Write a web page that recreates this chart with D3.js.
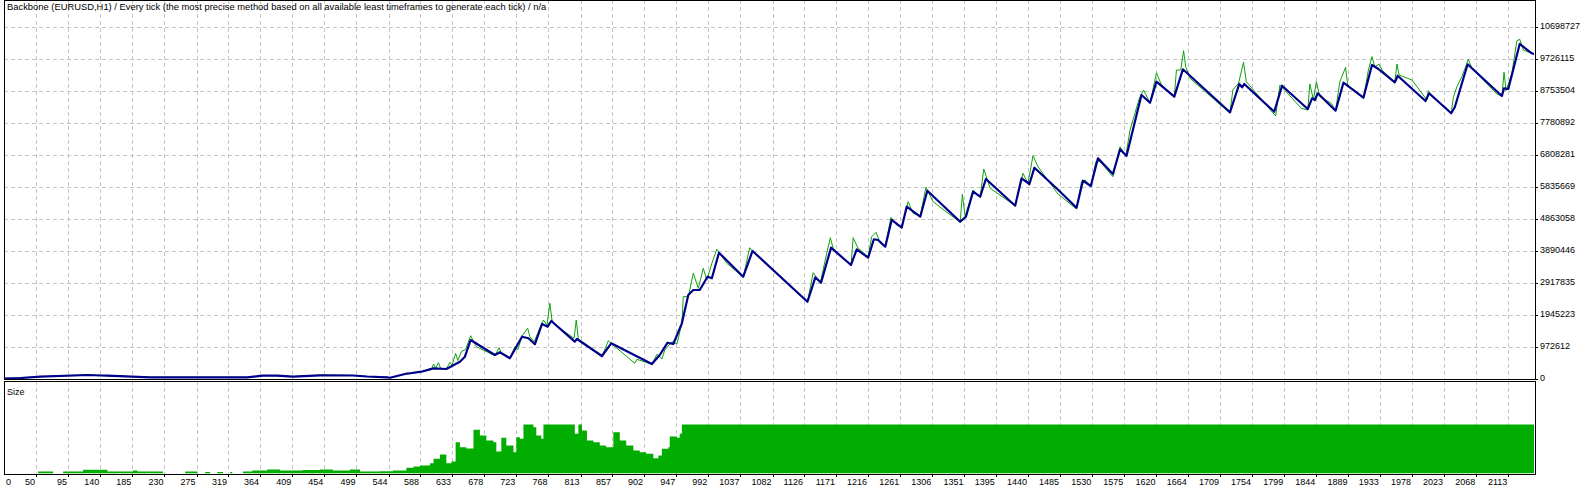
<!DOCTYPE html>
<html><head><meta charset="utf-8">
<script src="https://cdn.jsdelivr.net/npm/d3@7"></script>
<style>
html,body{margin:0;padding:0;background:#fff;overflow:hidden;}
svg{display:block;}
text{font-family:"Liberation Sans",Arial,sans-serif;font-size:9px;fill:#000;}
text.title{font-size:9.4px;}
</style></head><body>
<svg id="c" width="1580" height="491"></svg>
<script>
const titleText = "Backbone (EURUSD,H1) / Every tick (the most precise method based on all available least timeframes to generate each tick) / n/a";
const subTitleText = "Size";

const xTickLabels = [0,50,95,140,185,230,275,319,364,409,454,499,544,588,633,678,723,768,813,857,902,947,992,1037,1082,1126,1171,1216,1261,1306,1351,1395,1440,1485,1530,1575,1620,1664,1709,1754,1799,1844,1889,1933,1978,2023,2068,2113];
const yTickLabels = [0,972612,1945223,2917835,3890446,4863058,5835669,6808281,7780892,8753504,9726115,10698727];

// Balance line vertices (trade #, balance)
const balanceIdx = [5,28,56,123,140,150,210,346,368,388,410,448,494,514,542,546,567,590,607,625,644,651,659,693,700,714,731,740,749,759,767,772,805,808,843,856,913,924,935,943,955,964,971,980,991,997,1007,1041,1054,1131,1142,1150,1164,1192,1200,1216,1224,1230,1240,1249,1263,1270,1289,1299,1345,1353,1363,1373,1381,1422,1431,1442,1449,1484,1508,1517,1528,1538,1559,1569,1578,1599,1611,1620,1645,1657,1723,1736,1740,1743,1785,1796,1832,1838,1842,1846,1871,1882,1910,1922,1931,1954,1958,1997,2002,2033,2038,2056,2104,2107,2113,2129,2146,2149];
const balanceVal = [15000,30000,70000,122000,106000,100000,52000,52000,100000,100000,70000,113000,106000,76000,52000,37000,152000,222000,325000,304000,526000,678000,1186000,730000,812000,630000,1287000,1238000,1056000,1673000,1591000,1764000,1135000,1217000,700000,1086000,456000,730000,1104000,1065000,1694000,2555000,2707000,2707000,3112000,3063000,3842000,3112000,3894000,2351000,3094000,2929000,3994000,3468000,3945000,3690000,4250000,4228000,4025000,4837000,4603000,5241000,4937000,5728000,4785000,4937000,5698000,5546000,6084000,5272000,6105000,5932000,6428000,5719000,5211000,6032000,5871000,6714000,6236000,6987000,6784000,8639000,8405000,9044000,8588000,9421000,8113000,8974000,8873000,8974000,8131000,8922000,8213000,8539000,8487000,8691000,8162000,9013000,8557000,9552000,9430000,9026000,9226000,8457000,8691000,8083000,8265000,9573000,8609000,8843000,8822000,10191000,9908000,9887000];

// Equity line vertices (trade #, equity)
const equityIdx = [5,28,56,123,140,150,210,346,368,388,410,448,494,514,542,546,567,569,572,590,605,607,610,614,617,625,630,633,638,641,646,652,659,667,693,699,702,714,721,725,731,739,742,748,761,766,770,773,777,804,807,810,843,852,857,889,892,913,920,927,931,941,948,955,957,964,971,978,985,990,997,1004,1008,1018,1041,1050,1055,1088,1120,1131,1139,1149,1158,1163,1167,1192,1195,1202,1216,1221,1227,1233,1240,1248,1256,1263,1272,1279,1289,1297,1307,1345,1348,1352,1363,1373,1378,1387,1422,1433,1440,1447,1454,1482,1508,1515,1520,1528,1535,1541,1559,1569,1577,1583,1596,1602,1611,1620,1627,1645,1648,1654,1658,1661,1667,1723,1727,1735,1742,1746,1787,1793,1823,1832,1835,1840,1844,1849,1865,1871,1877,1885,1888,1910,1917,1922,1926,1932,1936,1954,1957,1960,1978,1999,2001,2006,2027,2033,2036,2041,2048,2057,2062,2097,2104,2107,2110,2118,2125,2129,2134,2148];
const equityVal = [15000,30000,70000,130000,110000,100000,52000,52000,105000,100000,70000,118000,110000,76000,52000,37000,152000,192000,160000,222000,330000,456000,330000,496000,320000,304000,508000,420000,782000,560000,830000,903000,1317000,983000,709000,952000,782000,630000,983000,882000,1308000,1542000,1287000,1135000,1795000,1643000,2303000,1795000,1640000,1238000,1795000,1217000,678000,1165000,1065000,478000,599000,447000,751000,608000,882000,1135000,1065000,1694000,2504000,2504000,3215000,2759000,3367000,3012000,3520000,3945000,3824000,3520000,3094000,3994000,3872000,3215000,2555000,2351000,3234000,2929000,3824000,4298000,3976000,3447000,4298000,3976000,3720000,4329000,4463000,4128000,4046000,4919000,4685000,4603000,5393000,5041000,4958000,5832000,5393000,4767000,5619000,4937000,5749000,5527000,6388000,5801000,5272000,6257000,5953000,6793000,6458000,5628000,5171000,6002000,6054000,5850000,6610000,6610000,6154000,7067000,6784000,7575000,8539000,8791000,8387000,9318000,8943000,8588000,9400000,9400000,9987000,9500000,9147000,8083000,8791000,8995000,9634000,9044000,8000000,8943000,8235000,8183000,8974000,8487000,9044000,8588000,8387000,8162000,9044000,9482000,8943000,8539000,9400000,9804000,9500000,9573000,9400000,9026000,9582000,9248000,9096000,8487000,8770000,8588000,8235000,8083000,8569000,8892000,9196000,9725000,9451000,8670000,8609000,9330000,8770000,9299000,10291000,10334000,10008000,9887000];

// Position size (trade #, lots)
const sizeIdx = [5,53,74,88,116,150,186,192,228,259,276,287,294,304,312,322,325,340,353,374,392,424,448,466,490,504,532,550,555,569,579,588,602,607,616,625,632,638,644,653,663,672,681,691,695,702,709,719,723,728,733,747,751,758,761,803,805,810,815,822,831,840,849,859,868,877,887,896,905,915,922,927,936,938,948,952,955,2149];
const sizeVal = [0,2,0,2,3.8,2,3,2,0,2,0,1.5,0,1.5,0,1.5,0,2,3,4,3,3.5,4,3,4,2,2.3,3,3,5.8,7.1,8.2,10.5,15,19.4,10.5,12.2,31.9,26.8,25.5,44.6,38.8,33.7,31.9,22.4,36.4,28.6,21.7,37,35.4,50,47.2,38.8,35.4,50,50,40.5,50,43.9,33.7,31.9,28.6,26.8,42.1,33.7,28.6,23.5,21.7,20.1,15.6,18.4,25.2,26.8,37.8,36.4,40.5,50,50];

const svg = d3.select("#c");
const L = 4, R = 1535, mainTop = 0, mainBot = 379, subTop = 381, subBot = 474;

const x = d3.scaleLinear().domain([50, 2113]).range([36, 1508.3]);
const y = d3.scaleLinear().domain([0, 10698727]).range([mainBot, 27.3]);
const ys = d3.scaleLinear().domain([0, 94]).range([subBot - 0.5, subTop + 0.5]);

const defs = svg.append("defs");
defs.append("clipPath").attr("id","cm").append("rect").attr("x",L+0.5).attr("y",mainTop+0.5).attr("width",R-L-1).attr("height",mainBot-mainTop-0.5);
defs.append("clipPath").attr("id","cs").append("rect").attr("x",L+0.5).attr("y",subTop+1).attr("width",R-L-1).attr("height",subBot-subTop-1.5);

const gridColor = "#c4c4c4", dash = "4,3";
const xt = xTickLabels.slice(1);
// vertical grid (both panes)
[[mainTop, mainBot],[subTop, subBot]].forEach(([a,b]) => {
  svg.append("g").selectAll("line").data(xt).join("line")
    .attr("x1", d => Math.round(x(d)) + 0.5).attr("x2", d => Math.round(x(d)) + 0.5)
    .attr("y1", a).attr("y2", b)
    .attr("stroke", gridColor).attr("stroke-dasharray", dash).attr("shape-rendering","crispEdges");
});
// horizontal grid
svg.append("g").selectAll("line").data(yTickLabels.slice(1)).join("line")
  .attr("x1", L).attr("x2", R)
  .attr("y1", d => Math.round(y(d)) + 0.5).attr("y2", d => Math.round(y(d)) + 0.5)
  .attr("stroke", gridColor).attr("stroke-dasharray", dash).attr("shape-rendering","crispEdges");

// size area
const sizeData = sizeIdx.map((d,i) => [d, sizeVal[i]]);
svg.append("path").attr("clip-path","url(#cs)")
  .datum(sizeData)
  .attr("d", d3.area().x(d => x(d[0])).y0(ys(0)).y1(d => ys(d[1])).curve(d3.curveStepAfter))
  .attr("fill", "#00ad00");

// equity + balance
const eq = equityIdx.map((d,i) => [d, equityVal[i]]);
const bal = balanceIdx.map((d,i) => [d, balanceVal[i]]);
const line = d3.line().x(d => x(d[0])).y(d => y(d[1]));
svg.append("path").attr("clip-path","url(#cm)").datum(eq).attr("d", line)
  .attr("fill","none").attr("stroke","#0ea00e").attr("stroke-width",1);
svg.append("path").attr("clip-path","url(#cm)").datum(bal).attr("d", line)
  .attr("fill","none").attr("stroke","#00008b").attr("stroke-width",2.2).attr("stroke-linejoin","round");

// frames
svg.append("rect").attr("x",L+0.5).attr("y",mainTop+0.5).attr("width",R-L).attr("height",mainBot-mainTop)
  .attr("fill","none").attr("stroke","#000").attr("shape-rendering","crispEdges");
svg.append("rect").attr("x",L+0.5).attr("y",subTop+0.5).attr("width",R-L).attr("height",subBot-subTop)
  .attr("fill","none").attr("stroke","#000").attr("shape-rendering","crispEdges");

// y axis labels
const yg = svg.append("g");
yg.selectAll("line").data(yTickLabels).join("line")
  .attr("x1", R+1).attr("x2", R+3)
  .attr("y1", d => Math.round(y(d)) + 0.5).attr("y2", d => Math.round(y(d)) + 0.5)
  .attr("stroke","#000").attr("shape-rendering","crispEdges");
yg.selectAll("text").data(yTickLabels).join("text")
  .attr("x", R + 5).attr("y", d => y(d) + 1.8)
  .text(d => String(d));

// x axis labels
const xg = svg.append("g");
xg.selectAll("line").data(xt).join("line")
  .attr("x1", d => Math.round(x(d)) + 0.5).attr("x2", d => Math.round(x(d)) + 0.5)
  .attr("y1", subBot + 1).attr("y2", subBot + 3)
  .attr("stroke","#000").attr("shape-rendering","crispEdges");
xg.selectAll("text").data(xTickLabels).join("text")
  .attr("x", (d,i) => i === 0 ? L + 2 : x(d) - 1)
  .attr("y", 484.5)
  .attr("text-anchor", (d,i) => i === 0 ? "start" : "end")
  .text(d => String(d));

svg.append("text").attr("class","title").attr("x", 7).attr("y", 9.5).text(titleText);
svg.append("text").attr("x", 7).attr("y", 394.5).text(subTitleText);
</script>
</body></html>
